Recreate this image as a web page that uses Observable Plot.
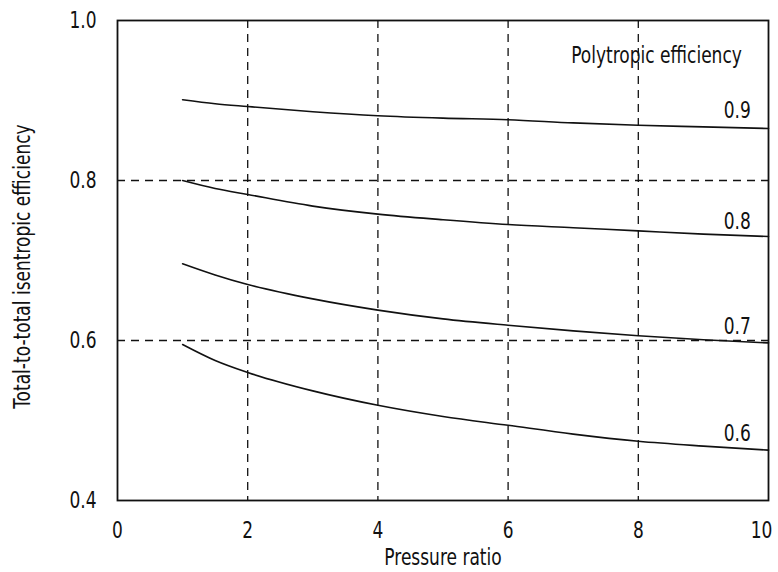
<!DOCTYPE html>
<html>
<head>
<meta charset="utf-8">
<script src="https://cdn.jsdelivr.net/npm/d3@7"></script>
<script src="https://cdn.jsdelivr.net/npm/@observablehq/plot@0.6"></script>
<style>
  html, body { margin: 0; padding: 0; background: #fff; }
</style>
</head>
<body>
<div id="chart"></div>
<script>
// Pressure ratio samples
const pressureRatio = [1, 1.5, 2, 3, 4, 5, 6, 7, 8, 9, 10];
// Total-to-total isentropic efficiency for each polytropic efficiency
const eta09 = [0.901, 0.896, 0.8925, 0.886, 0.881, 0.878, 0.876, 0.872, 0.869, 0.867, 0.865];
const eta08 = [0.800, 0.790, 0.7825, 0.768, 0.758, 0.751, 0.745, 0.741, 0.737, 0.733, 0.730];
const eta07 = [0.696, 0.682, 0.670, 0.652, 0.638, 0.627, 0.619, 0.612, 0.606, 0.601, 0.597];
const eta06 = [0.595, 0.575, 0.560, 0.537, 0.519, 0.505, 0.494, 0.483, 0.474, 0.468, 0.463];
const seriesNames = ["0.9", "0.8", "0.7", "0.6"];
const seriesValues = [eta09, eta08, eta07, eta06];
// Curve label anchors (data space)
const labelX = [9.52, 9.52, 9.52, 9.52];
const labelY = [0.887, 0.748, 0.617, 0.484];
const legendTitle = "Polytropic efficiency";
const xTicks = [0, 2, 4, 6, 8, 10];
const yTicks = [0.4, 0.6, 0.8, 1.0];
const xGrid = [2, 4, 6, 8];
const yGrid = [0.6, 0.8];
const xTitle = "Pressure ratio";
const yTitle = "Total-to-total isentropic efficiency";

const lineData = seriesNames.flatMap((name, i) =>
  pressureRatio.map((x, j) => ({series: name, x, y: seriesValues[i][j]})));
const labelData = seriesNames.map((name, i) => ({text: name, x: labelX[i], y: labelY[i]}));

const FONT = "DejaVu Sans Condensed, DejaVu Sans, sans-serif";

const plot = Plot.plot({
  width: 778,
  height: 572,
  marginLeft: 117,
  marginRight: 10,
  marginTop: 20,
  marginBottom: 72,
  style: {fontSize: "23px", fontFamily: FONT, color: "#111", background: "#fff"},
  x: {domain: [0, 10]},
  y: {domain: [0.4, 1.0]},
  marks: [
    Plot.ruleX(xGrid, {stroke: "#111", strokeWidth: 1.3, strokeDasharray: "8,6"}),
    Plot.ruleY(yGrid, {stroke: "#111", strokeWidth: 1.3, strokeDasharray: "8,6"}),
    Plot.frame({stroke: "#111", strokeWidth: 1.8}),
    Plot.line(lineData, {x: "x", y: "y", z: "series", curve: "monotone-x", stroke: "#111", strokeWidth: 1.6}),
    Plot.text(labelData, {x: "x", y: "y", text: "text", fontSize: 23, fill: "#111"}),
    Plot.text([legendTitle], {x: 8.28, y: 0.956, fontSize: 23, fill: "#111"}),
    Plot.axisX({ticks: xTicks, tickSize: 0, tickPadding: 21, fontSize: 23, tickFormat: d => String(d), label: null}),
    Plot.axisY({ticks: yTicks, tickSize: 0, tickPadding: 21, fontSize: 23, tickFormat: d => d.toFixed(1), label: null}),
    Plot.text([xTitle], {frameAnchor: "bottom", dy: 64, fontSize: 23, fill: "#111"}),
    Plot.text([yTitle], {frameAnchor: "left", textAnchor: "middle", dx: -95, dy: 6, rotate: -90, fontSize: 23, fill: "#111"})
  ]
});
document.getElementById("chart").appendChild(plot);

// Condense all text further to mimic the narrow typeface of the original figure
const targetWidthFactor = 0.74; // relative to regular DejaVu Sans
const probe = document.createElementNS("http://www.w3.org/2000/svg", "text");
probe.setAttribute("font-family", "DejaVu Sans");
probe.setAttribute("font-size", "23");
probe.textContent = "Pressure ratio";
plot.appendChild(probe);
const regularLen = probe.getComputedTextLength();
probe.remove();
const probe2 = document.createElementNS("http://www.w3.org/2000/svg", "text");
probe2.setAttribute("font-family", FONT);
probe2.setAttribute("font-size", "23");
probe2.textContent = "Pressure ratio";
plot.appendChild(probe2);
const usedLen = probe2.getComputedTextLength();
probe2.remove();
const condense = targetWidthFactor * regularLen / usedLen;
plot.querySelectorAll("text").forEach(t => {
  const len = t.getComputedTextLength();
  if (len > 0) {
    t.setAttribute("textLength", (len * condense).toFixed(1));
    t.setAttribute("lengthAdjust", "spacingAndGlyphs");
  }
  // the last x tick label sits flush against the right edge in the original
  if (t.textContent === "10") t.setAttribute("dx", "-7");
});
</script>
</body>
</html>
